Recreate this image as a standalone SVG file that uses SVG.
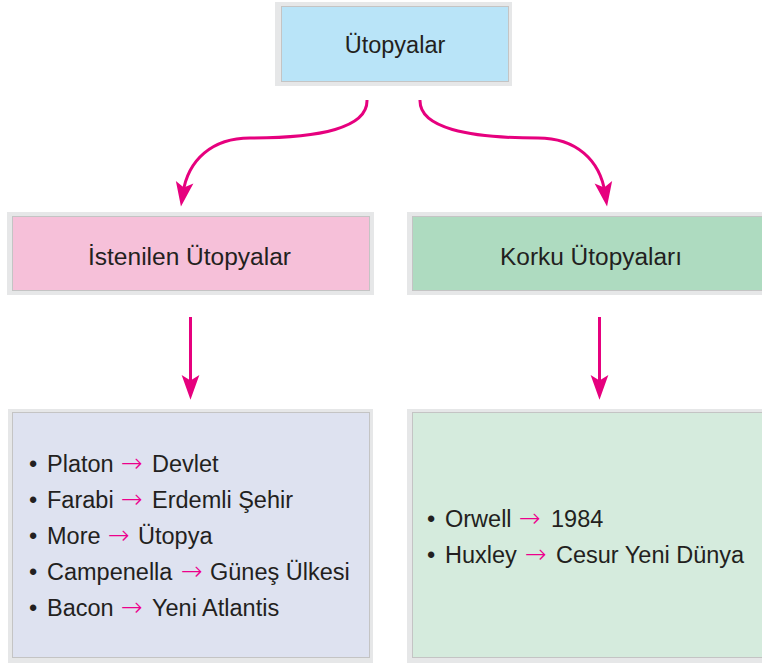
<svg xmlns="http://www.w3.org/2000/svg" width="762" height="663" viewBox="0 0 762 663">
<style>
.frame{fill:#e6e7e8}
.box{stroke:#c4c4c4;stroke-width:1}
.t{font-family:"Liberation Sans",Arial,sans-serif;font-size:23.5px;fill:#231f20}
.h{font-family:"Liberation Sans",Arial,sans-serif;font-size:23.5px;fill:#231f20;text-anchor:middle}
.ar{fill:#ec008c;font-family:"DejaVu Sans",sans-serif;font-size:26px;font-weight:200}
.conn{fill:none;stroke:#e6007e;stroke-width:3}
</style>
<defs>
<marker id="head" markerUnits="userSpaceOnUse" markerWidth="30" markerHeight="30" refX="0" refY="0" viewBox="-10 -10 22 20" orient="auto">
<path d="M10,0 L-8,-6.5 L-4,0 L-8,6.5 Z" fill="#e6007e"/>
</marker>
</defs>
<rect width="762" height="663" fill="#ffffff"/>

<g id="node-utopyalar">
<rect class="frame" x="275" y="2" width="237" height="84"/>
<rect class="box" x="281.5" y="6.5" width="227" height="75" fill="#b9e4f8"/>
<text class="h" x="395" y="53">Ütopyalar</text>
</g>

<g id="node-istenilen">
<rect class="frame" x="7" y="212" width="367" height="83"/>
<rect class="box" x="12.5" y="216.5" width="357" height="74" fill="#f6c0d9"/>
<text class="h" x="189.5" y="265" textLength="203" lengthAdjust="spacingAndGlyphs">İstenilen Ütopyalar</text>
</g>

<g id="node-korku">
<rect class="frame" x="407" y="212" width="355" height="83"/>
<rect class="box" x="412.5" y="216.5" width="352" height="74" fill="#aedbc0"/>
<text class="h" x="591" y="265" textLength="182" lengthAdjust="spacingAndGlyphs">Korku Ütopyaları</text>
</g>

<g id="node-istenilen-list">
<rect class="frame" x="8" y="409" width="365" height="254"/>
<rect class="box" x="12.5" y="412.5" width="357" height="245" fill="#dee2f0"/>
<text class="t" y="472"><tspan x="29">•</tspan><tspan x="47">Platon</tspan><tspan class="ar" x="121">→</tspan><tspan x="152">Devlet</tspan></text>
<text class="t" y="508"><tspan x="29">•</tspan><tspan x="47">Farabi</tspan><tspan class="ar" x="121">→</tspan><tspan x="152">Erdemli Şehir</tspan></text>
<text class="t" y="544"><tspan x="29">•</tspan><tspan x="47">More</tspan><tspan class="ar" x="108">→</tspan><tspan x="138">Ütopya</tspan></text>
<text class="t" y="580"><tspan x="29">•</tspan><tspan x="47">Campenella</tspan><tspan class="ar" x="181">→</tspan><tspan x="210">Güneş Ülkesi</tspan></text>
<text class="t" y="616"><tspan x="29">•</tspan><tspan x="47">Bacon</tspan><tspan class="ar" x="121">→</tspan><tspan x="152">Yeni Atlantis</tspan></text>
</g>

<g id="node-korku-list">
<rect class="frame" x="407" y="409" width="355" height="254"/>
<rect class="box" x="412.5" y="412.5" width="352" height="245" fill="#d5ebdd"/>
<text class="t" y="527"><tspan x="427">•</tspan><tspan x="445">Orwell</tspan><tspan class="ar" x="519">→</tspan><tspan x="551">1984</tspan></text>
<text class="t" y="563"><tspan x="427">•</tspan><tspan x="445">Huxley</tspan><tspan class="ar" x="525">→</tspan><tspan x="556">Cesur Yeni Dünya</tspan></text>
</g>

<g id="connectors">
<path class="conn" d="M367,100 C368,128 320,138 250,138 C212,138 188,160 183,193" marker-end="url(#head)"/>
<path class="conn" d="M420,100 C419,128 468,138 538,138 C576,138 600,160 605,193" marker-end="url(#head)"/>
<path class="conn" d="M190.5,317 L190.5,386" marker-end="url(#head)"/>
<path class="conn" d="M599.5,317 L599.5,386" marker-end="url(#head)"/>
</g>
</svg>
